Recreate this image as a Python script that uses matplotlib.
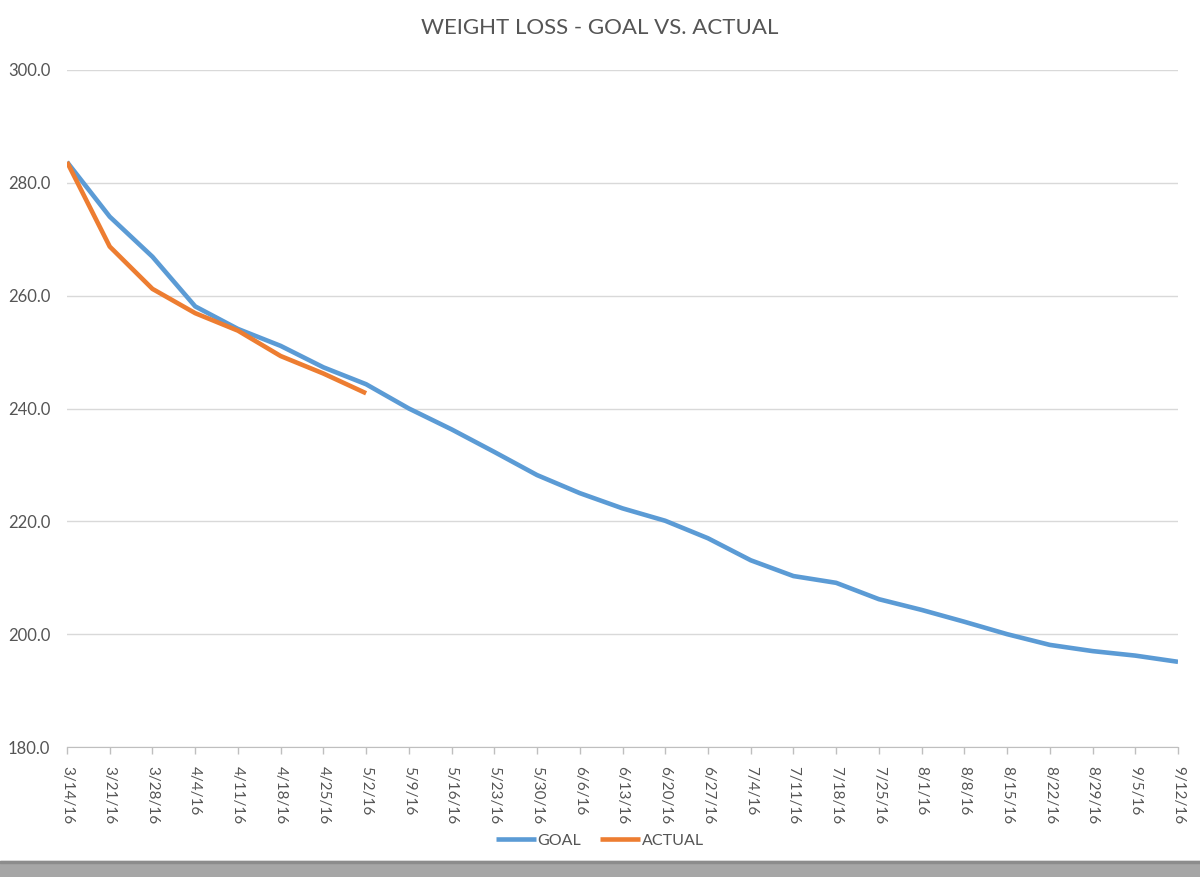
import matplotlib.pyplot as plt
from matplotlib.patches import Rectangle

# weekly dates, goal and actual weight
dates = ["3/14/16", "3/21/16", "3/28/16", "4/4/16", "4/11/16", "4/18/16", "4/25/16",
         "5/2/16", "5/9/16", "5/16/16", "5/23/16", "5/30/16", "6/6/16", "6/13/16",
         "6/20/16", "6/27/16", "7/4/16", "7/11/16", "7/18/16", "7/25/16", "8/1/16",
         "8/8/16", "8/15/16", "8/22/16", "8/29/16", "9/5/16", "9/12/16"]
goal = [283.7, 274.0, 266.9, 258.1, 254.1, 251.1, 247.3, 244.3, 240.0, 236.3,
        232.3, 228.2, 225.0, 222.3, 220.1, 217.0, 213.1, 210.3, 209.1, 206.2,
        204.3, 202.2, 200.0, 198.1, 197.0, 196.2, 195.1]
actual = [283.7, 268.7, 261.2, 256.9, 253.8, 249.3, 246.2, 242.7]

plt.rcParams['font.family'] = ['Lato', 'DejaVu Sans']
txt = '#555555'

fig = plt.figure(figsize=(12, 8.77), dpi=100)
ax = fig.add_axes([67/1200, 1-747/877, (1178-67)/1200, (747-70)/877])

ax.plot(range(len(goal)), goal, color='#5B9BD5', lw=3.3, label='GOAL',
        solid_capstyle='butt', solid_joinstyle='round', zorder=3)
ax.plot(range(len(actual)), actual, color='#ED7D31', lw=3.3, label='ACTUAL',
        solid_capstyle='butt', solid_joinstyle='round', zorder=4)

ax.set_xlim(0, len(dates)-1)
ax.set_ylim(180, 300)
ax.set_yticks(range(180, 301, 20))
ax.set_yticklabels(["%.1f" % v for v in range(180, 301, 20)])
ax.set_xticks(range(len(dates)))
ax.set_xticklabels(dates, rotation=-90)
ax.tick_params(axis='y', length=0, pad=12, labelsize=12, labelcolor=txt)
ax.tick_params(axis='x', length=5, width=1, color='#bfbfbf', pad=9, labelsize=11, labelcolor=txt)
ax.grid(axis='y', color='#d9d9d9', lw=1)
ax.set_axisbelow(True)
for s in ['top', 'right', 'left']:
    ax.spines[s].set_visible(False)
ax.spines['bottom'].set_color('#bfbfbf')

fig.text(0.5, 1-28/877, "WEIGHT LOSS - GOAL VS. ACTUAL", ha='center', va='center',
         fontsize=16, color=txt)

fig.legend(loc='center', bbox_to_anchor=(0.5, 1-841/877), ncol=2, frameon=False,
           fontsize=11.5, handlelength=2.5, columnspacing=1.2, handletextpad=0.1,
           labelcolor=txt)

# gray window bar at the bottom
fig.patches.append(Rectangle((0, 0), 1, 1-861/877, transform=fig.transFigure,
                             color='#a6a6a6', zorder=0))
fig.patches.append(Rectangle((0, 1-863/877), 1, 2/877, transform=fig.transFigure,
                             color='#8c8c8c', zorder=0))

fig.savefig("out.png", dpi=100)
